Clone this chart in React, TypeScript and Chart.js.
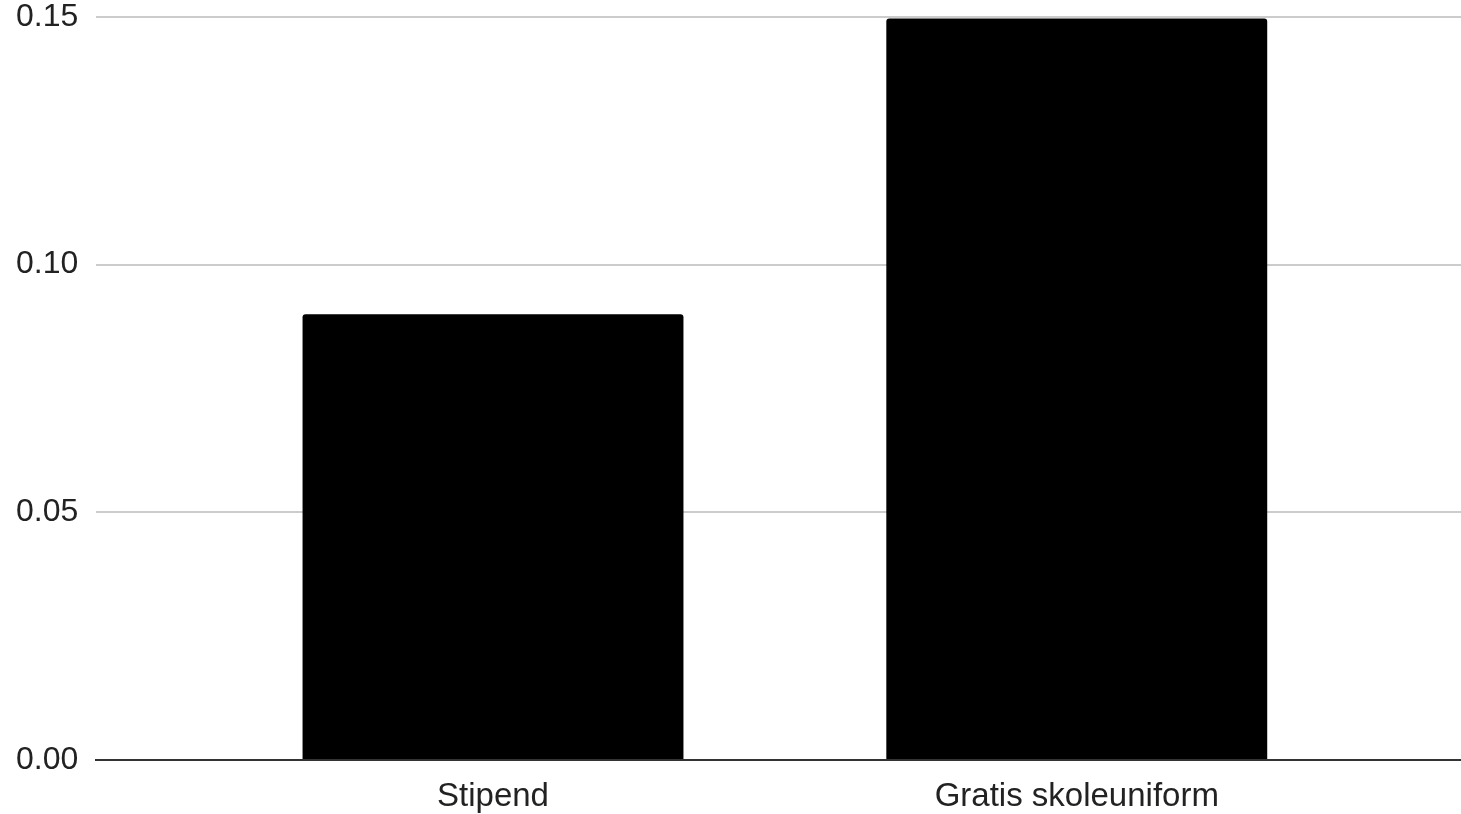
import React, { useEffect, useRef } from "react";
import { Chart, registerables } from "chart.js";

Chart.register(...registerables);

const CATEGORIES: string[] = ["Stipend", "Gratis skoleuniform"];
const VALUES: number[] = [0.09, 0.1497];
const Y_TICKS: number[] = [0, 0.05, 0.1, 0.15];

const FONT = "'Liberation Sans', Arial, sans-serif";

export default function App() {
  const canvasRef = useRef<HTMLCanvasElement | null>(null);

  useEffect(() => {
    if (!canvasRef.current) return;
    const chart = new Chart(canvasRef.current, {
      type: "bar",
      data: {
        datasets: [
          {
            data: VALUES.map((v, i) => ({ x: i, y: v })),
            backgroundColor: "#000000",
            borderRadius: 3,
            categoryPercentage: 1,
            barPercentage: 0.6525,
          },
        ],
      },
      options: {
        animation: false,
        responsive: true,
        maintainAspectRatio: false,
        layout: { padding: { left: 16, top: 0, right: 0, bottom: 0 } },
        plugins: {
          legend: { display: false },
          tooltip: { enabled: false },
        },
        scales: {
          x: {
            type: "linear",
            offset: false,
            min: -0.6796,
            max: 1.6582,
            z: 1,
            afterBuildTicks: (scale: any) => {
              scale.ticks = CATEGORIES.map((_, i) => ({ value: i }));
            },
            grid: { display: false, offset: false, drawTicks: true, tickLength: 19, tickColor: "rgba(0,0,0,0)" },
            border: { display: true, color: "#333333", width: 2 },
            ticks: {
              autoSkip: false,
              maxRotation: 0,
              padding: 0,
              color: "#222222",
              font: { family: FONT, size: 33, lineHeight: 1.06 },
              callback: (v: any) => CATEGORIES[v as number] ?? "",
            },
          },
          y: {
            min: 0,
            max: 0.15,
            afterBuildTicks: (scale: any) => {
              scale.ticks = Y_TICKS.map((v) => ({ value: v }));
            },
            grid: { color: "#cccccc", lineWidth: 2, drawTicks: true, tickLength: 18, tickColor: "rgba(0,0,0,0)" },
            border: { display: false },
            ticks: {
              padding: 0,
              color: "#222222",
              font: { family: FONT, size: 32, lineHeight: 1.06 },
              callback: (v: any) => Number(v).toFixed(2),
            },
          },
        },
      },
    } as any);
    return () => chart.destroy();
  }, []);

  return (
    <div style={{ position: "absolute", left: 0, top: 0, width: 1461, height: 814, background: "#ffffff" }}>
      <canvas ref={canvasRef} />
    </div>
  );
}
